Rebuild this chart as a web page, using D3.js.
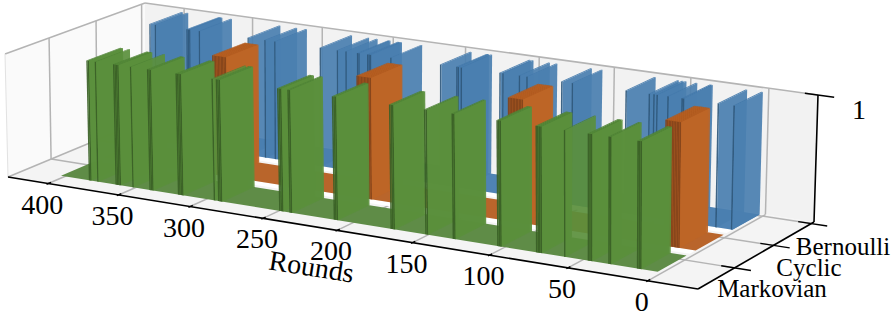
<!DOCTYPE html>
<html>
<head>
<meta charset="utf-8">
<script src="https://cdn.jsdelivr.net/npm/d3@7"></script>
<style>
html, body { margin: 0; padding: 0; background: #fff; }
text { font-family: "Liberation Serif", serif; fill: #000; }
</style>
</head>
<body>
<div id="chart"></div>
<script>
// rounds in which each pattern is active (value 1)
var patterns = ["Markovian", "Cyclic", "Bernoulli"];
var markovianRounds = [381, 382, 376, 360, 361, 362, 363, 351, 337, 338, 339, 316, 317, 318, 319,
	294, 289, 290, 291, 247, 248, 249, 241, 242, 210, 211, 212, 172, 173, 174, 150, 151, 132, 133,
	102, 103, 104, 76, 77, 78, 79, 61, 44, 45, 46, 32, 33, 13, 14, 15];
var cyclicRounds = [315, 316, 317, 318, 319, 320, 321, 322, 323, 324,
	215, 216, 217, 218, 219, 220, 221, 222, 223, 224,
	114, 115, 116, 117, 118, 119, 120, 121, 122, 123,
	13, 14, 15, 16, 17, 18, 19, 20, 21, 22];
var bernoulliRounds = [400, 396, 371, 372, 373, 364, 329, 317, 310, 278, 266, 260, 251, 252,
	243, 244, 245, 229, 195, 183, 184, 181, 155, 153, 142, 137, 114, 107, 72,
	57, 54, 52, 45, 35, 36, 13, 3];
var roundTicks = [0, 50, 100, 150, 200, 250, 300, 350, 400];
var roundExtent = [3, 403];
var zTicks = [1];

var width = 896, height = 317;

var svg = d3.select("#chart").append("svg")
	.attr("width", width)
	.attr("height", height)
	.style("display", "block");

//
// The box: corners of the floor and of the ceiling as they show on the picture.
// Order: (u,v) = (0,0), (1,0), (1,1), (0,1)
//
var floorCorners = [[698, 289], [8, 177], [145, 120], [814, 222]];
var topCorners = [[699, 155.5], [5, 54], [145, 3], [818, 95]];

function homography(q) {
	var dx1 = q[1][0] - q[2][0], dx2 = q[3][0] - q[2][0], sx = q[0][0] - q[1][0] + q[2][0] - q[3][0],
		dy1 = q[1][1] - q[2][1], dy2 = q[3][1] - q[2][1], sy = q[0][1] - q[1][1] + q[2][1] - q[3][1],
		den = dx1 * dy2 - dx2 * dy1,
		g = (sx * dy2 - dx2 * sy) / den,
		h = (dx1 * sy - sx * dy1) / den,
		a = q[1][0] - q[0][0] + g * q[1][0],
		b = q[3][0] - q[0][0] + h * q[3][0],
		d = q[1][1] - q[0][1] + g * q[1][1],
		e = q[3][1] - q[0][1] + h * q[3][1];
	return function(u, v) {
		var w = g * u + h * v + 1;
		return [(a * u + b * v + q[0][0]) / w, (d * u + e * v + q[0][1]) / w];
	};
}

var floorAt = homography(floorCorners),
	topAt = homography(topCorners);

// x: rounds to 0..1 along the box, y: pattern to 0..1 across it, z: height
var x = d3.scaleLinear().domain([-31, 429]).range([0, 1]),
	yBand = d3.scaleBand().domain(patterns).range([0.12, 0.99]).paddingInner(0.24),
	yTick = d3.scalePoint().domain(patterns).range([0.305, 0.975]),
	z = d3.scaleLinear().domain([0, 1.03]).range([0, 1]);

function project(u, v, w) {
	var a = floorAt(u, v), b = topAt(u, v);
	return [a[0] + (b[0] - a[0]) * w, a[1] + (b[1] - a[1]) * w];
}

var line = d3.line();

function quad(points) {
	return line(points.map(function(p) { return project(p[0], p[1], p[2]); })) + "Z";
}

function poly(g, points, fill, opacity) {
	g.append("path")
		.attr("d", quad(points))
		.attr("fill", fill)
		.attr("fill-opacity", opacity === undefined ? 1 : opacity);
}

function seg(g, a, b, color, w) {
	g.append("path")
		.attr("d", quad([a, b]).replace("Z", ""))
		.attr("fill", "none")
		.attr("stroke", color)
		.attr("stroke-width", w);
}

//
// Panes
//
var panes = svg.append("g");
poly(panes, [[1, 0, 0], [1, 1, 0], [1, 1, 1], [1, 0, 1]], "#fafafa");
poly(panes, [[1, 1, 0], [0, 1, 0], [0, 1, 1], [1, 1, 1]], "#f2f2f2");
poly(panes, [[0, 0, 0], [1, 0, 0], [1, 1, 0], [0, 1, 0]], "#f4f4f4");

//
// Grid lines
//
var gridColor = "#b4b4b4";
var grid = svg.append("g");
roundTicks.forEach(function(r) {
	var u = x(r);
	seg(grid, [u, 0, 0], [u, 1, 0], gridColor, 1.5);
	seg(grid, [u, 1, 0], [u, 1, 1], gridColor, 1.5);
});
patterns.forEach(function(p) {
	var v = yTick(p);
	seg(grid, [0, v, 0], [1, v, 0], gridColor, 1.5);
	seg(grid, [1, v, 0], [1, v, 1], gridColor, 1.5);
});
seg(grid, [1, 0, 1], [1, 1, 1], gridColor, 1.5);
seg(grid, [1, 1, 1], [0, 1, 1], gridColor, 1.5);
seg(grid, [1, 0, 0], [1, 0, 1], "#e2e2e2", 1);
seg(grid, [1, 0, 0], [1, 1, 0], gridColor, 1.5);

//
// Bars, back row first, and high rounds first inside a row
//
var seriesRounds = { Markovian: markovianRounds, Cyclic: cyclicRounds, Bernoulli: bernoulliRounds };
var seriesColors = {
	Markovian: { side: "#5a8f3c", front: "#3a5f26", top: "#4f8336", floor: "#5f8c47" },
	Cyclic: { side: "#bd6526", front: "#83431a", top: "#b05a20", floor: "#b9652b" },
	Bernoulli: { side: "#4a7fb0", front: "#2f587c", top: "#447aab", floor: "#4f83b4" }
};

var bars = svg.append("g");
patterns.slice().reverse().forEach(function(p) {
	var c = seriesColors[p],
		v0 = yBand(p),
		v1 = v0 + yBand.bandwidth(),
		u0 = x(roundExtent[0]),
		u1 = x(roundExtent[1]);

	// the zero height bars make a flat strip, with a white edge in front of it
	if (p != patterns[0]) {
		poly(bars, [[u0, v0 - 0.05, 0], [u1, v0 - 0.05, 0], [u1, v0, 0], [u0, v0, 0]], "#fff");
	}
	poly(bars, [[u0, v0, 0], [u1, v0, 0], [u1, v1, 0], [u0, v1, 0]], c.floor);

	var rounds = seriesRounds[p].slice().sort(d3.descending);
	var g = bars.append("g").attr("class", "series-" + p);
	rounds.forEach(function(r) {
		var a = x(r), b = x(r + 1), h = z(1);
		poly(g, [[a, v0, h], [b, v0, h], [b, v1, h], [a, v1, h]], c.top, 0.92);
		poly(g, [[a, v0, 0], [b, v0, 0], [b, v0, h], [a, v0, h]], c.front, 0.92);
		poly(g, [[a, v0, 0], [a, v1, 0], [a, v1, h], [a, v0, h]], c.side, 0.92);
	});
});

//
// Axes
//
var axes = svg.append("g");
seg(axes, [1, 0, 0], [0, 0, 0], "#000", 1.6);
seg(axes, [0, 0, 0], [0, 1, 0], "#000", 1.6);
seg(axes, [0, 1, 0], [0, 1, 1], "#000", 1.6);

roundTicks.forEach(function(r) {
	var u = x(r), a = project(u, 0, 0);
	seg(axes, [u, -0.012, 0], [u, 0.02, 0], "#000", 1.4);
	axes.append("text")
		.attr("x", a[0] - 6)
		.attr("y", a[1] + 30)
		.attr("text-anchor", "middle")
		.attr("font-size", 28)
		.text(r);
});

var patternLabels = { Markovian: [772, 297], Cyclic: [809, 276], Bernoulli: [843, 255] };
patterns.forEach(function(p) {
	var v = yTick(p);
	seg(axes, [-0.022, v, 0], [0.018, v, 0], "#000", 1.4);
	axes.append("text")
		.attr("x", patternLabels[p][0])
		.attr("y", patternLabels[p][1])
		.attr("text-anchor", "middle")
		.attr("font-size", 25)
		.text(p);
});

zTicks.forEach(function(t) {
	seg(axes, [-0.022, 1, 1], [0.018, 1, 1], "#000", 1.4);
	axes.append("text")
		.attr("x", 859)
		.attr("y", 119)
		.attr("text-anchor", "middle")
		.attr("font-size", 28)
		.text(t);
});

axes.append("text")
	.attr("transform", "translate(310,276) rotate(9)")
	.attr("text-anchor", "middle")
	.attr("font-size", 28)
	.text("Rounds");
</script>
</body>
</html>
